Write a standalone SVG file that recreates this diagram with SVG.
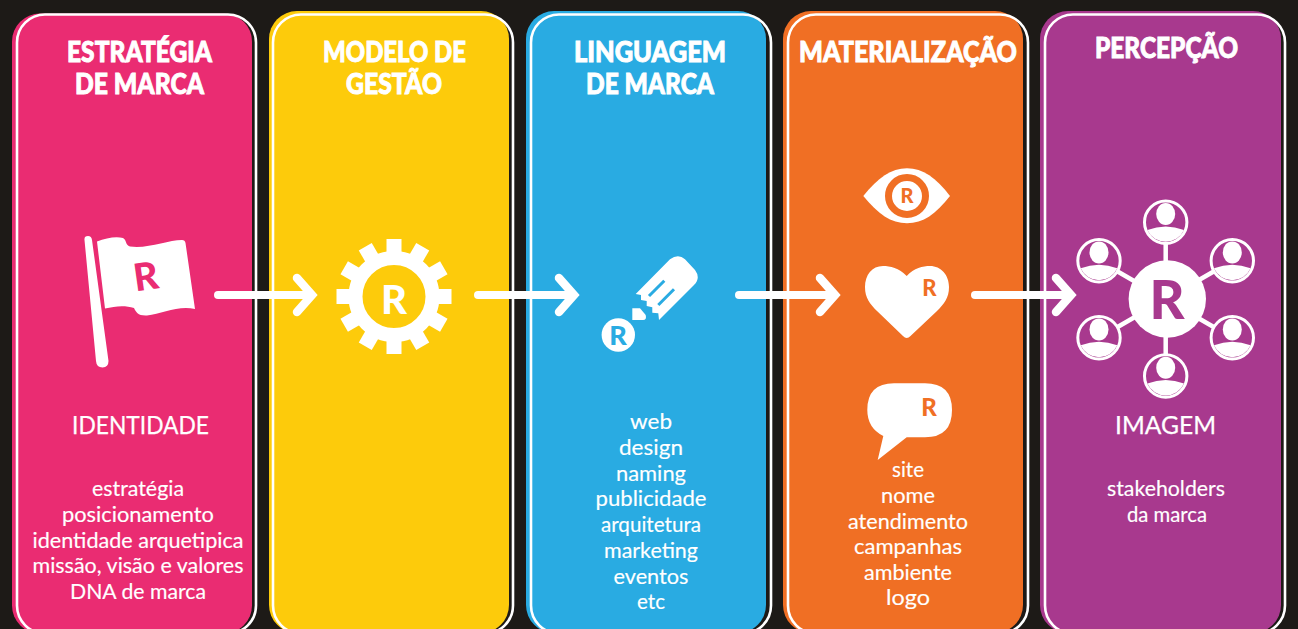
<svg xmlns="http://www.w3.org/2000/svg" width="1298" height="629" viewBox="0 0 1298 629">
<style>
.outline{fill:none;stroke:#fff;stroke-width:2.6}
text{font-family:Lato,"Liberation Sans",sans-serif;fill:#fff;text-anchor:middle}
.title{font-size:28px;font-weight:900;stroke:#fff;stroke-width:.9px}
.sub{font-size:25px;stroke:#fff;stroke-width:.25px}
.body{font-size:20.5px;stroke:#fff;stroke-width:.15px}
.r{font-weight:900}
.w{fill:#fff}
.conn{fill:none;stroke:#fff;stroke-width:8;stroke-linecap:round}
.head{fill:none;stroke:#fff;stroke-width:8.5;stroke-linecap:round;stroke-linejoin:miter;stroke-miterlimit:6}
</style>
<defs>
<g id="tooth"><rect x="-7.500" y="-57.500" width="15" height="18" fill="#fff"/></g>
<g id="person">
<circle r="21.200" fill="none" stroke="#fff" stroke-width="3"/>
<ellipse cy="-8.300" rx="9.500" ry="11" fill="#fff"/>
<path d="M-18.300,7.600Q0,.6 18.300,7.600A20,20 0 0 1-18.300,7.600Z" fill="#fff"/>
</g>
</defs>
<rect width="1298" height="629" fill="#1d1a17"/>

<g id="node-estrategia">
<rect x="12" y="13.500" width="240" height="620" rx="28" fill="#ea2c72"/>
<rect x="17" y="14.500" width="239" height="619" rx="28" class="outline"/>
<text class="title" x="139.500" y="62" textLength="145" lengthAdjust="spacingAndGlyphs">ESTRATÉGIA</text>
<text class="title" x="139.500" y="94" textLength="129" lengthAdjust="spacingAndGlyphs">DE MARCA</text>
<path class="w" d="M84.500,240Q84,236 88,236Q91.500,236 92,240L108.500,361Q108.500,367 102.500,367.500Q96.500,367.500 96,361Z"/>
<path class="w" d="M97,241.500C106,238 116,236 123,238C127,240 125,245 130,246.500C148,249 168,240 182,240Q185,240 185.500,243L195,309C178,305 162,314 147,315.500C138,316 136,312 134,308C125,305 115,306 105,308.500Z"/>
<text class="r" x="146" y="290" font-size="38" style="fill:#ea2c72" transform="rotate(-8 146 278)">R</text>
<text class="sub" x="140.500" y="434" textLength="137" lengthAdjust="spacingAndGlyphs">IDENTIDADE</text>
<text class="body" x="138" y="496" textLength="92" lengthAdjust="spacingAndGlyphs">estratégia</text>
<text class="body" x="138" y="522" textLength="152" lengthAdjust="spacingAndGlyphs">posicionamento</text>
<text class="body" x="138" y="548" textLength="211" lengthAdjust="spacingAndGlyphs">identidade arquetipica</text>
<text class="body" x="138" y="573" textLength="211" lengthAdjust="spacingAndGlyphs">missão, visão e valores</text>
<text class="body" x="138" y="599" textLength="136" lengthAdjust="spacingAndGlyphs">DNA de marca</text>
</g>

<g id="node-modelo">
<rect x="269" y="11" width="240" height="622" rx="28" fill="#fdcb0b"/>
<rect x="273" y="14.500" width="240" height="619" rx="28" class="outline"/>
<text class="title" x="394.500" y="62" textLength="143" lengthAdjust="spacingAndGlyphs">MODELO DE</text>
<text class="title" x="394" y="94" textLength="96" lengthAdjust="spacingAndGlyphs">GESTÃO</text>
<g transform="translate(394 296.500)">
<circle r="38.500" fill="none" stroke="#fff" stroke-width="14"/>
<use href="#tooth"/><use href="#tooth" transform="rotate(30)"/><use href="#tooth" transform="rotate(60)"/><use href="#tooth" transform="rotate(90)"/><use href="#tooth" transform="rotate(120)"/><use href="#tooth" transform="rotate(150)"/><use href="#tooth" transform="rotate(180)"/><use href="#tooth" transform="rotate(210)"/><use href="#tooth" transform="rotate(240)"/><use href="#tooth" transform="rotate(270)"/><use href="#tooth" transform="rotate(300)"/><use href="#tooth" transform="rotate(330)"/>
</g>
<text class="r" x="394" y="314" font-size="40">R</text>
</g>

<g id="node-linguagem">
<rect x="526" y="11" width="240" height="622" rx="28" fill="#29abe2"/>
<rect x="531" y="14.500" width="240" height="619" rx="28" class="outline"/>
<text class="title" x="650" y="62" textLength="152" lengthAdjust="spacingAndGlyphs">LINGUAGEM</text>
<text class="title" x="650" y="94" textLength="128" lengthAdjust="spacingAndGlyphs">DE MARCA</text>
<path class="w" d="M635.700,294L670,259.300Q678.300,253 685,259.300L695,270Q701,278 694,285L659,320L658.300,313.300L652.300,312.700L652.300,307.300L646.700,306L646.700,301L641,300L641,295Z"/>
<path d="M649,296L664.300,280.700M658.300,305L674,289.300" stroke="#29abe2" stroke-width="3" fill="none"/>
<path class="w" d="M632.300,308.300L640,308.300L645.700,315Q647,320 643,320L632.300,320Z"/>
<circle class="w" cx="618.300" cy="335" r="16.700"/>
<text class="r" x="618" y="345" font-size="27" style="fill:#29abe2">R</text>
<text class="body" x="651" y="429" textLength="42" lengthAdjust="spacingAndGlyphs">web</text>
<text class="body" x="651" y="455" textLength="64" lengthAdjust="spacingAndGlyphs">design</text>
<text class="body" x="651" y="481" textLength="70" lengthAdjust="spacingAndGlyphs">naming</text>
<text class="body" x="651" y="506" textLength="111" lengthAdjust="spacingAndGlyphs">publicidade</text>
<text class="body" x="651" y="532" textLength="100" lengthAdjust="spacingAndGlyphs">arquitetura</text>
<text class="body" x="651" y="558" textLength="94" lengthAdjust="spacingAndGlyphs">marketing</text>
<text class="body" x="651" y="584" textLength="75" lengthAdjust="spacingAndGlyphs">eventos</text>
<text class="body" x="651" y="609" textLength="28" lengthAdjust="spacingAndGlyphs">etc</text>
</g>

<g id="node-materializacao">
<rect x="783" y="11" width="240" height="622" rx="28" fill="#f06f24"/>
<rect x="788" y="14.500" width="240" height="619" rx="28" class="outline"/>
<text class="title" x="908" y="62" textLength="218" lengthAdjust="spacingAndGlyphs">MATERIALIZAÇÃO</text>
<path class="w" d="M863.300,196C878,178 891,168.300 907,168.300C923,168.300 936,178 950,196C936,214 923,223.300 907,223.300C891,223.300 878,214 863.300,196Z"/>
<circle cx="907" cy="196" r="18.500" fill="none" stroke="#f06f24" stroke-width="7"/>
<text class="r" x="907" y="203" font-size="20" style="fill:#f06f24">R</text>
<path class="w" d="M906.700,276C899,268 890,266 883,266C872,266 865,275 865,287C865,298 870,304 877,311L903,336Q906.700,340 910.500,336L937,311C944,304 949,298 949,287C949,275 941,266 930,266C923,266 914,268 906.700,276Z"/>
<text class="r" x="929.500" y="296" font-size="22" style="fill:#f06f24">R</text>
<path class="w" d="M894,383.300H925Q952,383.300 952,410Q952,437.300 925,437.300H906.700L877.700,460L883.300,436Q867.300,428 867.300,410Q867.300,383.300 894,383.300Z"/>
<text class="r" x="929" y="416" font-size="24" style="fill:#f06f24">R</text>
<text class="body" x="908" y="477" textLength="32" lengthAdjust="spacingAndGlyphs">site</text>
<text class="body" x="908" y="503" textLength="54" lengthAdjust="spacingAndGlyphs">nome</text>
<text class="body" x="908" y="529" textLength="120" lengthAdjust="spacingAndGlyphs">atendimento</text>
<text class="body" x="908" y="554" textLength="108" lengthAdjust="spacingAndGlyphs">campanhas</text>
<text class="body" x="908" y="580" textLength="88" lengthAdjust="spacingAndGlyphs">ambiente</text>
<text class="body" x="908" y="605" textLength="44" lengthAdjust="spacingAndGlyphs">logo</text>
</g>

<g id="node-percepcao">
<rect x="1040" y="11" width="241" height="622" rx="28" fill="#a8398e"/>
<rect x="1045" y="14.500" width="240" height="619" rx="28" class="outline"/>
<text class="title" x="1166.500" y="58" textLength="143" lengthAdjust="spacingAndGlyphs">PERCEPÇÃO</text>
<path d="M1165.700,240V360M1099,260.700L1232.300,337.700M1232.300,260.700L1099,337.700" stroke="#fff" stroke-width="4.500" fill="none"/>
<circle class="w" cx="1167.300" cy="299" r="38.700"/>
<text class="r" x="1167" y="319" font-size="54" style="fill:#a8398e">R</text>
<circle cx="1165.700" cy="222.300" r="21.200" fill="#a8398e"/><circle cx="1099" cy="260.700" r="21.200" fill="#a8398e"/><circle cx="1232.300" cy="260.700" r="21.200" fill="#a8398e"/><circle cx="1099" cy="337.700" r="21.200" fill="#a8398e"/><circle cx="1232.300" cy="337.700" r="21.200" fill="#a8398e"/><circle cx="1165.700" cy="376" r="21.200" fill="#a8398e"/>
<use href="#person" x="1165.700" y="222.300"/>
<use href="#person" x="1099" y="260.700"/>
<use href="#person" x="1232.300" y="260.700"/>
<use href="#person" x="1099" y="337.700"/>
<use href="#person" x="1232.300" y="337.700"/>
<use href="#person" x="1165.700" y="376"/>
<text class="sub" x="1165.500" y="434" textLength="101" lengthAdjust="spacingAndGlyphs">IMAGEM</text>
<text class="body" x="1166" y="496" textLength="118" lengthAdjust="spacingAndGlyphs">stakeholders</text>
<text class="body" x="1167" y="522" textLength="80" lengthAdjust="spacingAndGlyphs">da marca</text>
</g>

<g id="connectors">
<path class="conn" d="M218,295H305"/><path class="head" d="M297,278L312,295L297,312"/>
<path class="conn" d="M478,295H567"/><path class="head" d="M559,278L574,295L559,312"/>
<path class="conn" d="M739,295H828"/><path class="head" d="M820,278L835,295L820,312"/>
<path class="conn" d="M975,295H1064"/><path class="head" d="M1056,278L1071,295L1056,312"/>
</g>
</svg>
